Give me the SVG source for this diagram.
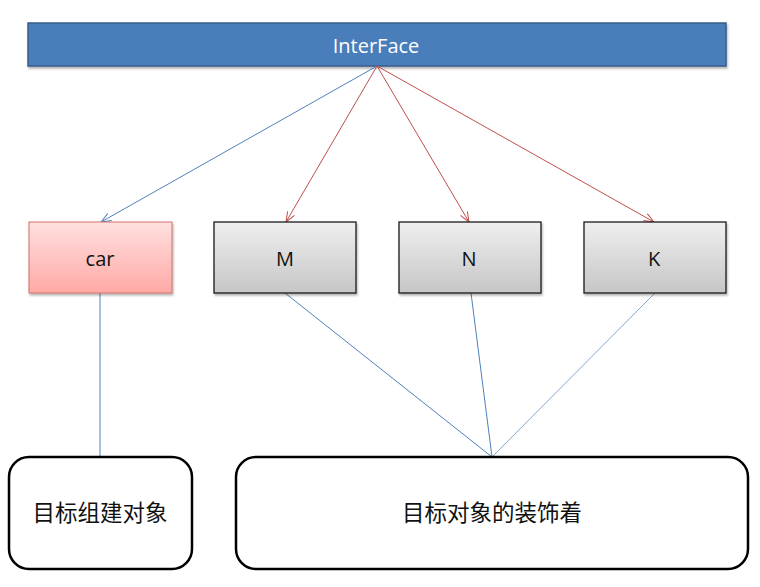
<svg xmlns="http://www.w3.org/2000/svg" width="760" height="587" viewBox="0 0 760 587">
<defs>
<linearGradient id="gGray" x1="0" y1="0" x2="0" y2="1"><stop offset="0" stop-color="#efefef"/><stop offset="1" stop-color="#c6c6c6"/></linearGradient>
<linearGradient id="gPink" x1="0" y1="0" x2="0" y2="1"><stop offset="0" stop-color="#ffe0df"/><stop offset="1" stop-color="#ffa9a6"/></linearGradient>
<marker id="aBlue" markerWidth="12" markerHeight="10" refX="11" refY="5" orient="auto" markerUnits="userSpaceOnUse"><path d="M1,1 L11,5 L1,9" fill="none" stroke="#4f81bd" stroke-width="1"/></marker>
<marker id="aRed" markerWidth="12" markerHeight="10" refX="11" refY="5" orient="auto" markerUnits="userSpaceOnUse"><path d="M1,1 L11,5 L1,9" fill="none" stroke="#c0504d" stroke-width="1"/></marker>
<filter id="sh" x="-5%" y="-5%" width="110%" height="115%"><feDropShadow dx="1" dy="2" stdDeviation="1.2" flood-color="#000" flood-opacity="0.3"/></filter>
</defs>
<style>
.lbl{font-family:"Open Sans","Liberation Sans",sans-serif;font-size:20px;text-anchor:middle;dominant-baseline:central;fill:#111}
.cjk{font-family:"Liberation Sans","Noto Sans CJK SC",sans-serif;font-size:22.5px;text-anchor:middle;dominant-baseline:central;fill:#111}
.gray{fill:url(#gGray);stroke:#1a1a1a;stroke-width:1.3}
.big{fill:#fff;stroke:#000;stroke-width:2.5}
.blue{stroke:#4f81bd;stroke-width:1;fill:none}
.red{stroke:#c0504d;stroke-width:1;fill:none}
</style>
<g id="interface">
<rect x="28" y="23" width="698" height="43" fill="#4a7ebb" stroke="#385d8a" stroke-width="1.5" filter="url(#sh)"/>
<text x="376" y="45" class="lbl" style="fill:#fff">InterFace</text>
</g>
<g id="connectors">
<line x1="377" y1="66" x2="101" y2="222" class="blue" marker-end="url(#aBlue)"/>
<line x1="377" y1="66" x2="286" y2="222" class="red" marker-end="url(#aRed)"/>
<line x1="377" y1="66" x2="469" y2="222" class="red" marker-end="url(#aRed)"/>
<line x1="377" y1="66" x2="654" y2="222" class="red" marker-end="url(#aRed)"/>
<line x1="100" y1="293" x2="100" y2="457" class="blue"/>
<line x1="285" y1="293" x2="492" y2="457" class="blue"/>
<line x1="471" y1="293" x2="492" y2="457" class="blue"/>
<line x1="655" y1="293" x2="492" y2="457" class="blue" stroke-opacity="0.7"/>
</g>
<g id="car">
<rect x="29" y="222" width="143" height="71" fill="url(#gPink)" stroke="#d0706b" stroke-width="1" filter="url(#sh)"/>
<text x="100" y="258" class="lbl">car</text>
</g>
<g id="M">
<rect x="214" y="222" width="142" height="71" class="gray" filter="url(#sh)"/>
<text x="285" y="258" class="lbl">M</text>
</g>
<g id="N">
<rect x="399" y="222" width="142" height="71" class="gray" filter="url(#sh)"/>
<text x="469" y="258" class="lbl">N</text>
</g>
<g id="K">
<rect x="584" y="222" width="142" height="71" class="gray" filter="url(#sh)"/>
<text x="654" y="258" class="lbl">K</text>
</g>
<g id="target">
<rect x="9" y="457" width="183" height="112" rx="20" ry="20" class="big"/>
<text x="100" y="513" class="cjk">目标组建对象</text>
</g>
<g id="decorator">
<rect x="236" y="457" width="512" height="112" rx="20" ry="20" class="big"/>
<text x="492" y="513" class="cjk">目标对象的装饰着</text>
</g>
</svg>
